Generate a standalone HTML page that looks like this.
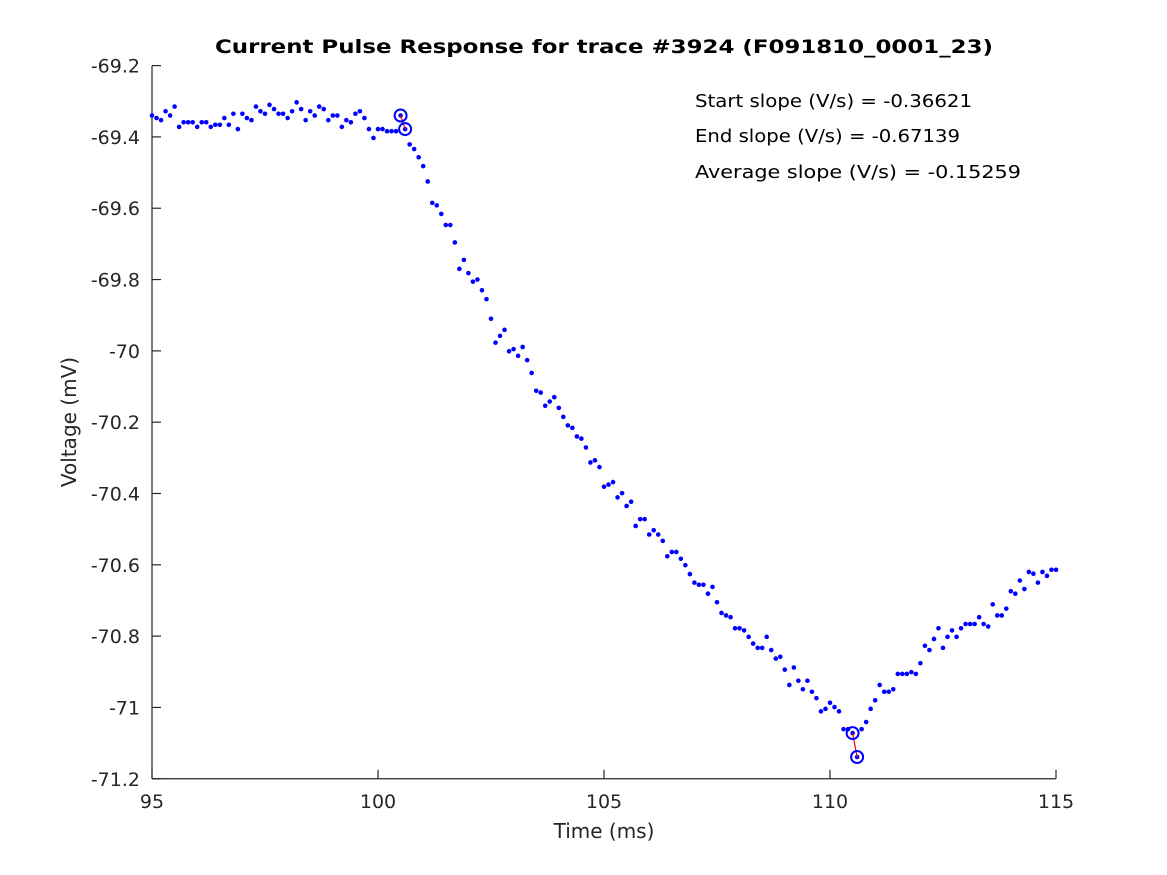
<!DOCTYPE html>
<html><head><meta charset="utf-8"><style>
body{margin:0;background:#fff;}
svg{display:block;font-family:"DejaVu Sans","Liberation Sans",sans-serif;}
</style></head><body>
<svg id="chart" width="1167" height="875" viewBox="0 0 1167 875">
<rect width="1167" height="875" fill="#fff"/>
<text x="215" y="53" font-size="19" font-weight="bold" fill="#000" textLength="778" lengthAdjust="spacingAndGlyphs">Current Pulse Response for trace #3924 (F091810_0001_23)</text>
<g id="axes"></g>
<g id="marks"></g>
<text x="604" y="838" text-anchor="middle" font-size="20" fill="#262626">Time (ms)</text>
<text transform="translate(76,422) rotate(-90)" text-anchor="middle" font-size="20" fill="#262626">Voltage (mV)</text>
<text x="695" y="107" font-size="18" fill="#000" textLength="277" lengthAdjust="spacingAndGlyphs">Start slope (V/s) = -0.36621</text>
<text x="695" y="142" font-size="18" fill="#000" textLength="265" lengthAdjust="spacingAndGlyphs">End slope (V/s) = -0.67139</text>
<text x="695" y="178" font-size="18" fill="#000" textLength="326" lengthAdjust="spacingAndGlyphs">Average slope (V/s) = -0.15259</text>
</svg>
<script>
const tStart = 95, tStep = 0.1;
const voltages = [
-69.340,-69.347,-69.353,-69.328,-69.340,-69.315,-69.372,-69.359,-69.359,-69.359,
-69.372,-69.359,-69.359,-69.372,-69.366,-69.366,-69.347,-69.366,-69.335,-69.378,
-69.335,-69.347,-69.353,-69.315,-69.328,-69.335,-69.310,-69.322,-69.335,-69.335,
-69.347,-69.328,-69.303,-69.322,-69.353,-69.328,-69.340,-69.315,-69.322,-69.353,
-69.340,-69.340,-69.372,-69.353,-69.359,-69.335,-69.328,-69.347,-69.378,-69.403,
-69.378,-69.378,-69.384,-69.384,-69.384,-69.340,-69.378,-69.421,-69.434,-69.457,
-69.482,-69.525,-69.585,-69.592,-69.616,-69.647,-69.647,-69.696,-69.770,-69.745,
-69.782,-69.806,-69.800,-69.830,-69.855,-69.910,-69.977,-69.958,-69.941,-70.001,
-69.995,-70.014,-69.989,-70.026,-70.062,-70.112,-70.117,-70.154,-70.142,-70.130,
-70.160,-70.185,-70.209,-70.216,-70.240,-70.246,-70.271,-70.313,-70.307,-70.326,
-70.381,-70.375,-70.368,-70.411,-70.399,-70.435,-70.423,-70.491,-70.472,-70.472,
-70.515,-70.503,-70.515,-70.533,-70.576,-70.564,-70.564,-70.583,-70.601,-70.626,
-70.650,-70.656,-70.656,-70.681,-70.662,-70.705,-70.735,-70.742,-70.747,-70.778,
-70.778,-70.784,-70.802,-70.821,-70.833,-70.833,-70.802,-70.839,-70.863,-70.858,
-70.894,-70.937,-70.888,-70.925,-70.949,-70.925,-70.956,-70.974,-71.011,-71.004,
-70.987,-70.999,-71.011,-71.061,-71.061,-71.072,-71.139,-71.061,-71.041,-71.004,
-70.980,-70.937,-70.956,-70.956,-70.949,-70.906,-70.906,-70.906,-70.901,-70.906,
-70.876,-70.827,-70.839,-70.808,-70.778,-70.833,-70.802,-70.784,-70.802,-70.778,
-70.766,-70.766,-70.766,-70.747,-70.766,-70.773,-70.711,-70.742,-70.742,-70.723,
-70.674,-70.681,-70.644,-70.668,-70.620,-70.625,-70.650,-70.620,-70.631,-70.614,
-70.614];
const startPair = [55, 56];
const endPair = [155, 156];
const xTicks = [95, 100, 105, 110, 115];
const yTicks = [-69.2,-69.4,-69.6,-69.8,-70,-70.2,-70.4,-70.6,-70.8,-71,-71.2];
const xTickLabels = ["95","100","105","110","115"];
const yTickLabels = ["-69.2","-69.4","-69.6","-69.8","-70","-70.2","-70.4","-70.6","-70.8","-71","-71.2"];

const X0=152, X1=1056, Y0=778.75, Y1=65.6;
const xMin=95,xMax=115,yMin=-71.2,yMax=-69.2;
const sx = t => X0 + (t-xMin)/(xMax-xMin)*(X1-X0);
const sy = v => Y0 - (v-yMin)/(yMax-yMin)*(Y0-Y1);
const NS="http://www.w3.org/2000/svg";
const axes=document.getElementById('axes'), marks=document.getElementById('marks');
function mk(tag, attrs, parent){const e=document.createElementNS(NS,tag);for(const k in attrs)e.setAttribute(k,attrs[k]);parent.appendChild(e);return e;}

const xl=mk('line',{x1:X0,y1:Y0,x2:X1,y2:Y0,stroke:'#262626','stroke-width':1.2},axes);


const yl=mk('line',{x1:X0,y1:Y0,x2:X0,y2:Y1,stroke:'#262626','stroke-width':1.2},axes);


xTicks.forEach((t,i)=>{
  const x=sx(t);
  const tk=mk('line',{x1:x,y1:Y0,x2:x,y2:Y0-9,stroke:'#262626','stroke-width':1.2},axes);
  
  
  const tx=mk('text',{x:x,y:Y0+29,'text-anchor':'middle','font-size':19,fill:'#262626'},axes);
  tx.textContent=xTickLabels[i];
  
  
});
yTicks.forEach((v,i)=>{
  const y=sy(v);
  const tk=mk('line',{x1:X0,y1:y,x2:X0+9,y2:y,stroke:'#262626','stroke-width':1.2},axes);
  
  
  const tx=mk('text',{x:X0-12,y:y+7,'text-anchor':'end','font-size':19,fill:'#262626'},axes);
  tx.textContent=yTickLabels[i];
  
  
});
voltages.forEach((v,i)=>{
  const c=mk('circle',{cx:sx(tStart+i*tStep),cy:sy(v),r:2.3,fill:'#0000ff'},marks);
  
  
});
[startPair,endPair].forEach((p,j)=>{
  const a=p[0],b=p[1];
  const ln=mk('line',{x1:sx(tStart+a*tStep),y1:sy(voltages[a]),x2:sx(tStart+b*tStep),y2:sy(voltages[b]),stroke:'#ff0000','stroke-width':1.2},marks);
  
  
  p.forEach(k=>{
    const c=mk('circle',{cx:sx(tStart+k*tStep),cy:sy(voltages[k]),r:6,fill:'none',stroke:'#0000ff','stroke-width':2},marks);
    
    
  });
});
</script>
</body></html>
